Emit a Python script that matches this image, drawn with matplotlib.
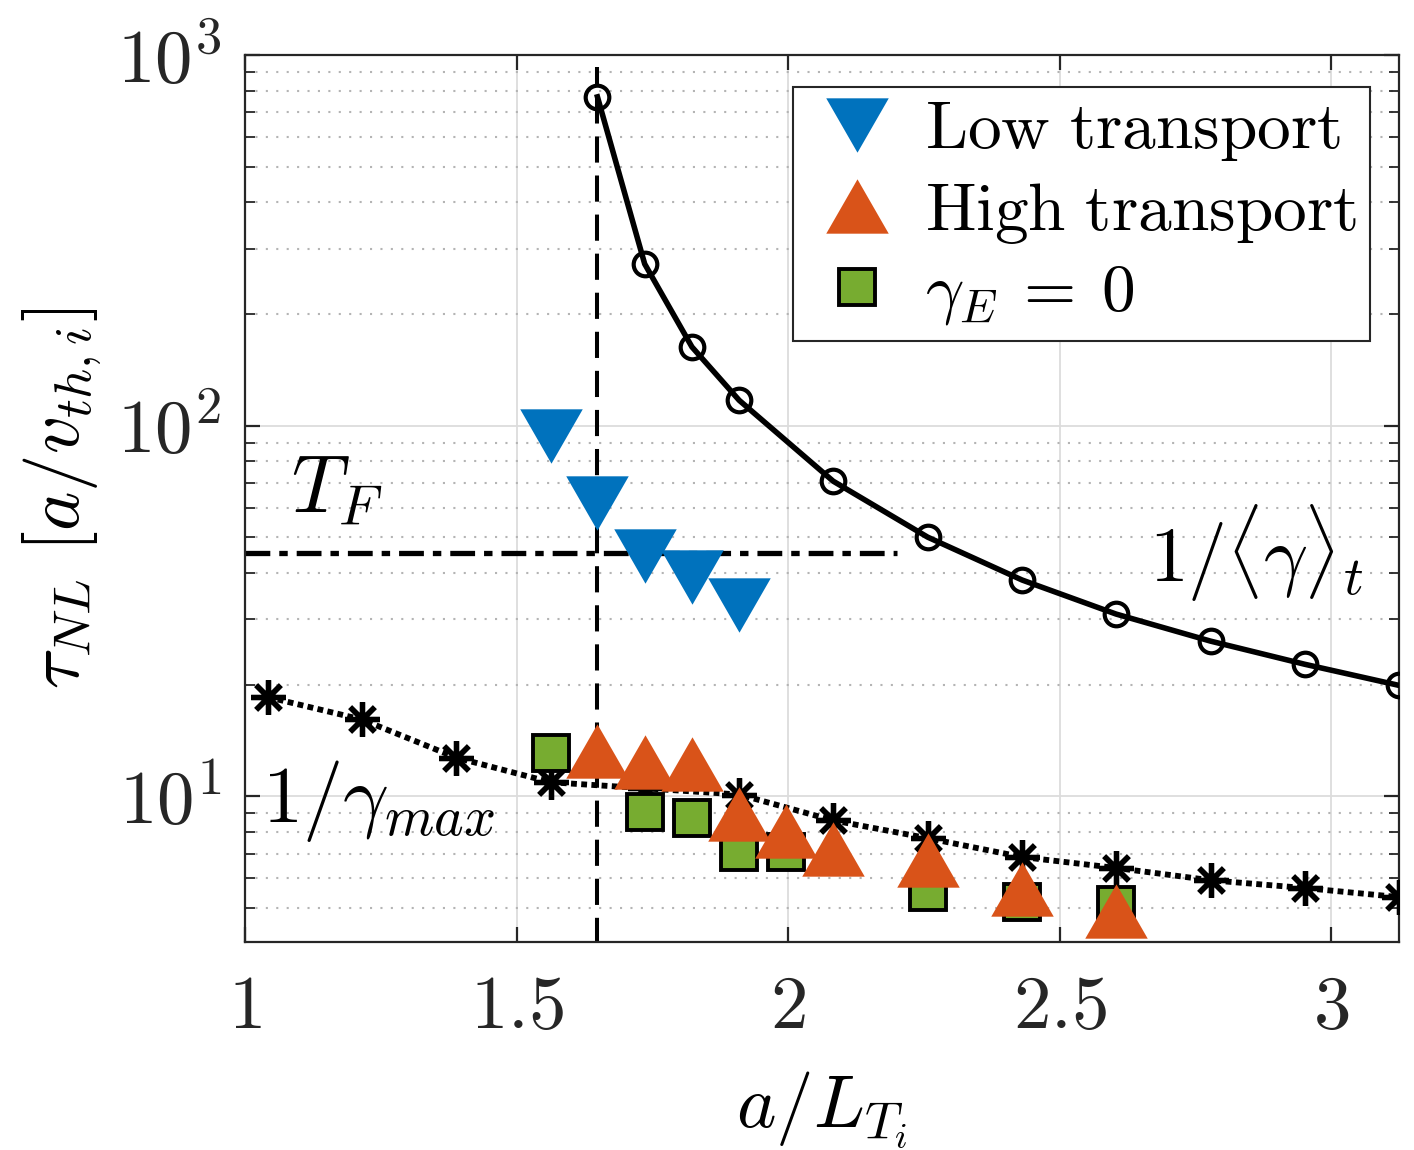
import matplotlib
matplotlib.use('Agg')
import matplotlib.pyplot as plt
from matplotlib.path import Path

plt.rcParams['mathtext.fontset'] = 'cm'
plt.rcParams['font.family'] = 'serif'
plt.rcParams['font.serif'] = ['cmr10', 'DejaVu Serif']

# 1/<gamma>_t (time-averaged growth rate)
x_avg = [1.649, 1.736, 1.823, 1.910, 2.083, 2.257, 2.431, 2.604, 2.778, 2.951, 3.125]
tau_avg = [771, 273, 163, 117, 70.8, 50.0, 38.3, 31.0, 26.2, 22.7, 19.9]

# 1/gamma_max (linear growth rate)
x_max = [1.042, 1.215, 1.389, 1.563, 1.736, 1.910, 2.083, 2.257, 2.431, 2.604, 2.778, 2.951, 3.125]
tau_max = [18.5, 16.1, 12.7, 10.9, 10.5, 10.1, 8.6, 7.7, 6.85, 6.4, 5.93, 5.65, 5.34]

# nonlinear decorrelation time, low transport branch
x_low = [1.563, 1.649, 1.736, 1.823, 1.910]
tau_low = [93.8, 61.8, 44.5, 39.0, 32.7]

# high transport branch
x_high = [1.649, 1.736, 1.823, 1.910, 1.997, 2.083, 2.257, 2.431, 2.604]
tau_high = [13.2, 12.4, 12.2, 8.94, 8.05, 7.2, 6.72, 5.61, 4.89]

# no flow shear
x_noshear = [1.563, 1.736, 1.823, 1.910, 1.997, 2.257, 2.431, 2.604]
tau_noshear = [13.1, 9.05, 8.73, 7.06, 7.06, 5.5, 5.17, 5.08]

x_crit = 1.649
tau_F = 45.4
x_F_end = 2.2

xticks = [1, 1.5, 2, 2.5, 3]
xticklabels = ['$1$', '$1.5$', '$2$', '$2.5$', '$3$']
yticks = [10, 100, 1000]
yticklabels = ['$10^{1}$', '$10^{2}$', '$10^{3}$']

blue = '#0072BD'
orange = '#D95319'
green = '#77AC30'
axcol = '#262626'

# MATLAB-like triangles (wider than tall)
tri_down = Path([(-1, 0.87), (1, 0.87), (0, -0.87), (-1, 0.87)],
                [Path.MOVETO, Path.LINETO, Path.LINETO, Path.CLOSEPOLY])
tri_up = Path([(-1, -0.87), (1, -0.87), (0, 0.87), (-1, -0.87)],
              [Path.MOVETO, Path.LINETO, Path.LINETO, Path.CLOSEPOLY])

fig = plt.figure(figsize=(14.14, 11.5), dpi=100)
ax = fig.add_axes([245 / 1414, 1 - 942 / 1150, (1399 - 245) / 1414, (942 - 55) / 1150])
ax.set_yscale('log')

ax.plot([x_crit, x_crit], [4, 930], color='k', ls=(0, (6.5, 3.2)), lw=2.9, zorder=2)
ax.plot([1, x_F_end], [tau_F, tau_F], color='k', ls=(0, (4.7, 1.7, 1.6, 1.7)), lw=3.8, zorder=2)

ax.plot(x_avg, tau_avg, color='k', lw=4.0, marker='o', ms=17, mfc='none', mec='k', mew=3.0, zorder=3)
ax.plot(x_max, tau_max, color='k', lw=4.2, ls=(0, (1.0, 0.75)), marker=(8, 2, 0), ms=25,
        mec='k', mew=3.8, zorder=3)

h_sq, = ax.plot(x_noshear, tau_noshear, ls='none', marker='s', ms=26.5, mfc=green, mec='k',
                mew=2.8, zorder=4, label=r'$\gamma_E\:=\:0$')
h_hi, = ax.plot(x_high, tau_high, ls='none', marker=tri_up, ms=45, mfc=orange, mec='none',
                zorder=5, label=r'$\mathrm{High\ transport}$')
h_lo, = ax.plot(x_low, tau_low, ls='none', marker=tri_down, ms=45, mfc=blue, mec='none',
                zorder=6, label=r'$\mathrm{Low\ transport}$')

ax.text(1.0856, 58.4, r'$T_F$', fontsize=58, ha='left', va='baseline')
ax.text(2.664, 37.9, r'$1/\langle\gamma\rangle_t$', fontsize=56, ha='left', va='baseline')
ax.text(1.031, 8.53, r'$1/\gamma_{max}$', fontsize=58, ha='left', va='baseline')

ax.set_xlim(1, 3.125)
ax.set_ylim(4.04, 1000)
ax.set_xticks(xticks)
ax.set_xticklabels(xticklabels)
ax.set_yticks(yticks)
ax.set_yticklabels(yticklabels)
ax.minorticks_off()
minor_y = [m * 10 ** e for e in range(0, 3) for m in range(2, 10)]
ax.set_yticks([v for v in minor_y if 4.04 <= v <= 1000], minor=True)
ax.yaxis.set_minor_formatter(plt.NullFormatter())

ax.grid(which='major', color='#dcdcdc', lw=1.3, zorder=0)
ax.grid(which='minor', axis='y', color='#b4b4b4', ls=(0, (1, 4)), lw=1.5, zorder=0)
ax.set_axisbelow(True)

for s in ax.spines.values():
    s.set_color(axcol)
    s.set_linewidth(1.6)
ax.tick_params(which='both', direction='in', top=True, right=True, colors=axcol)
ax.tick_params(which='major', length=11, width=1.6, labelsize=54)
ax.tick_params(axis='x', which='major', pad=24)
ax.tick_params(axis='y', which='major', pad=17)
ax.tick_params(which='minor', length=7, width=1.3)

fig.text(822 / 1414, 1 - 1110 / 1150, r'$a/L_{T_i}$', fontsize=54, ha='center', va='center')
fig.text(62 / 1414, 1 - 498 / 1150, r'$\tau_{NL}\ [a/v_{th,i}]$', fontsize=54,
         ha='center', va='center', rotation=90)

leg = ax.legend(handles=[h_lo, h_hi, h_sq], loc='upper right',
                bbox_to_anchor=(1370 / 1414, 1 - 87 / 1150), bbox_transform=fig.transFigure,
                borderaxespad=0, fontsize=48.5, fancybox=False, framealpha=1,
                edgecolor=axcol, handlelength=1.5, handletextpad=0.25,
                labelspacing=0.26, borderpad=0.2)
leg.get_frame().set_linewidth(1.5)

fig.savefig('out.png', dpi=100)
